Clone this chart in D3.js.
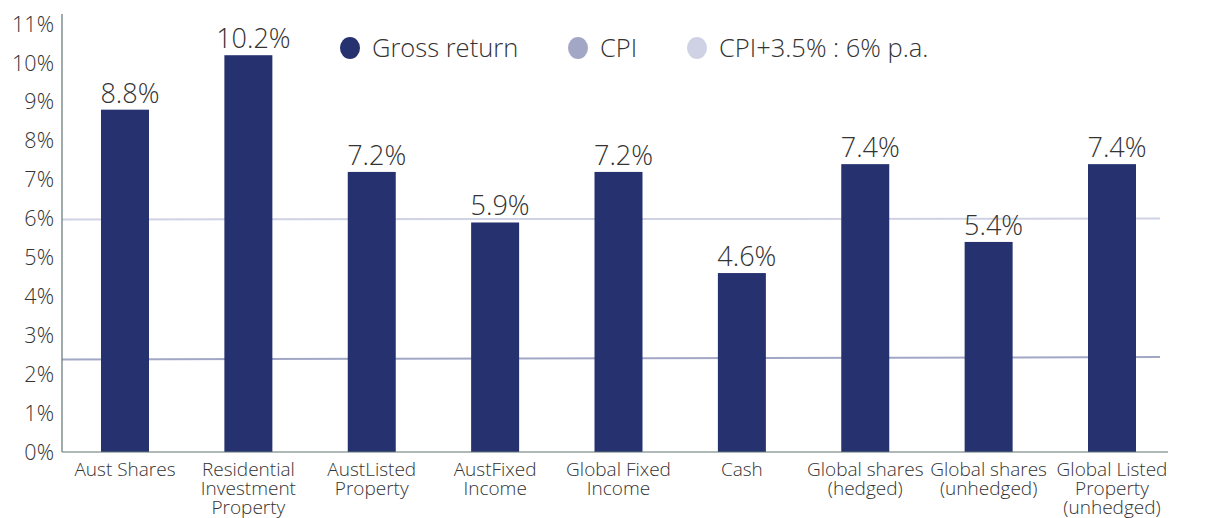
<!DOCTYPE html>
<html>
<head>
<meta charset="utf-8">
<script src="https://cdn.jsdelivr.net/npm/d3@7"></script>
<style>
  body { margin: 0; background: #fff; }
  text { font-family: "Open Sans", sans-serif; fill: #333; }
</style>
</head>
<body>
<svg id="chart" width="1211" height="518"></svg>
<script>
// chart data
let categories = [
    ["Aust Shares"],
    ["Residential", "Investment", "Property"],
    ["AustListed", "Property"],
    ["AustFixed", "Income"],
    ["Global Fixed", "Income"],
    ["Cash"],
    ["Global shares", "(hedged)"],
    ["Global shares", "(unhedged)"],
    ["Global Listed", "Property", "(unhedged)"]
];
let grossReturn = [8.8, 10.2, 7.2, 5.9, 7.2, 4.6, 7.4, 5.4, 7.4];
let cpiLine = [2.38, 2.44];          // start / end of the CPI line
let cpiPlusLine = [5.98, 6.0];       // CPI+3.5% line
let yTicks = d3.range(0, 12);
let legendNames = ["Gross return", "CPI", "CPI+3.5% : 6% p.a."];
let colors = ["#263270", "#a2a7c6", "#cfd2e4"];

let margin = {top: 14, right: 43, bottom: 66, left: 62},
    width = 1211 - margin.left - margin.right,
    height = 518 - margin.top - margin.bottom;

let svg = d3.select("#chart");
let g = svg.append("g").attr("transform", "translate(" + margin.left + "," + margin.top + ")");

let x = d3.scaleBand()
    .domain(d3.range(categories.length))
    .range([39, 1074])
    .paddingInner(0.611)
    .paddingOuter(0);

let y = d3.scaleLinear()
    .domain([0, 11])
    .range([height, height - 11 * 38.9]);

// y tick labels
g.selectAll(".ytick")
    .data(yTicks)
    .enter().append("text")
    .attr("x", -8)
    .attr("y", d => y(d))
    .attr("dy", "0.35em")
    .attr("text-anchor", "end")
    .style("font-size", "21.5px")
    .style("font-weight", 300)
    .text(d => d + "%");

// reference lines
let lineX = d3.scaleLinear().domain([0, 1]).range([0, width - 8]);
[[cpiPlusLine, colors[2]], [cpiLine, colors[1]]].forEach(([vals, c]) => {
    g.append("line")
        .attr("x1", lineX(0)).attr("x2", lineX(1))
        .attr("y1", y(vals[0])).attr("y2", y(vals[1]))
        .attr("stroke", c)
        .attr("stroke-width", 2);
});

// bars
g.selectAll(".bar")
    .data(grossReturn)
    .enter().append("rect")
    .attr("x", (d, i) => x(i))
    .attr("y", d => y(d))
    .attr("width", x.bandwidth())
    .attr("height", d => y(0) - y(d))
    .attr("fill", colors[0]);

// value labels
g.selectAll(".val")
    .data(grossReturn)
    .enter().append("text")
    .attr("x", (d, i) => x(i) + x.bandwidth() / 2 + 5)
    .attr("y", d => y(d) - 7)
    .attr("text-anchor", "middle")
    .style("font-size", "27px")
    .style("font-weight", 300)
    .text(d => d.toFixed(1) + "%");

// axes lines
g.append("line")
    .attr("x1", 0).attr("x2", 0)
    .attr("y1", 0).attr("y2", height)
    .attr("stroke", "#5f7572").attr("stroke-width", 1.2);
g.append("line")
    .attr("x1", 0).attr("x2", width)
    .attr("y1", height).attr("y2", height)
    .attr("stroke", "#5f7572").attr("stroke-width", 1.2);

// category labels
let cat = g.selectAll(".cat")
    .data(categories)
    .enter().append("text")
    .attr("text-anchor", "middle")
    .attr("transform", (d, i) => "translate(" + (x(i) + x.bandwidth() / 2) + "," + (height + 24) + ")")
    .style("font-size", "19px")
    .style("font-weight", 300);
cat.selectAll("tspan")
    .data(d => d)
    .enter().append("tspan")
    .attr("x", 0)
    .attr("y", (d, i) => i * 19)
    .text(d => d);

// legend
let legendX = [350, 578, 697];
let legend = svg.selectAll(".legend")
    .data(legendNames)
    .enter().append("g")
    .attr("transform", (d, i) => "translate(" + legendX[i] + ",48)");
legend.append("ellipse")
    .attr("rx", 10).attr("ry", 11)
    .attr("fill", (d, i) => colors[i]);
legend.append("text")
    .attr("x", 22)
    .attr("dy", "0.35em")
    .style("font-size", "25.5px")
    .style("font-weight", 300)
    .text(d => d);
</script>
</body>
</html>
